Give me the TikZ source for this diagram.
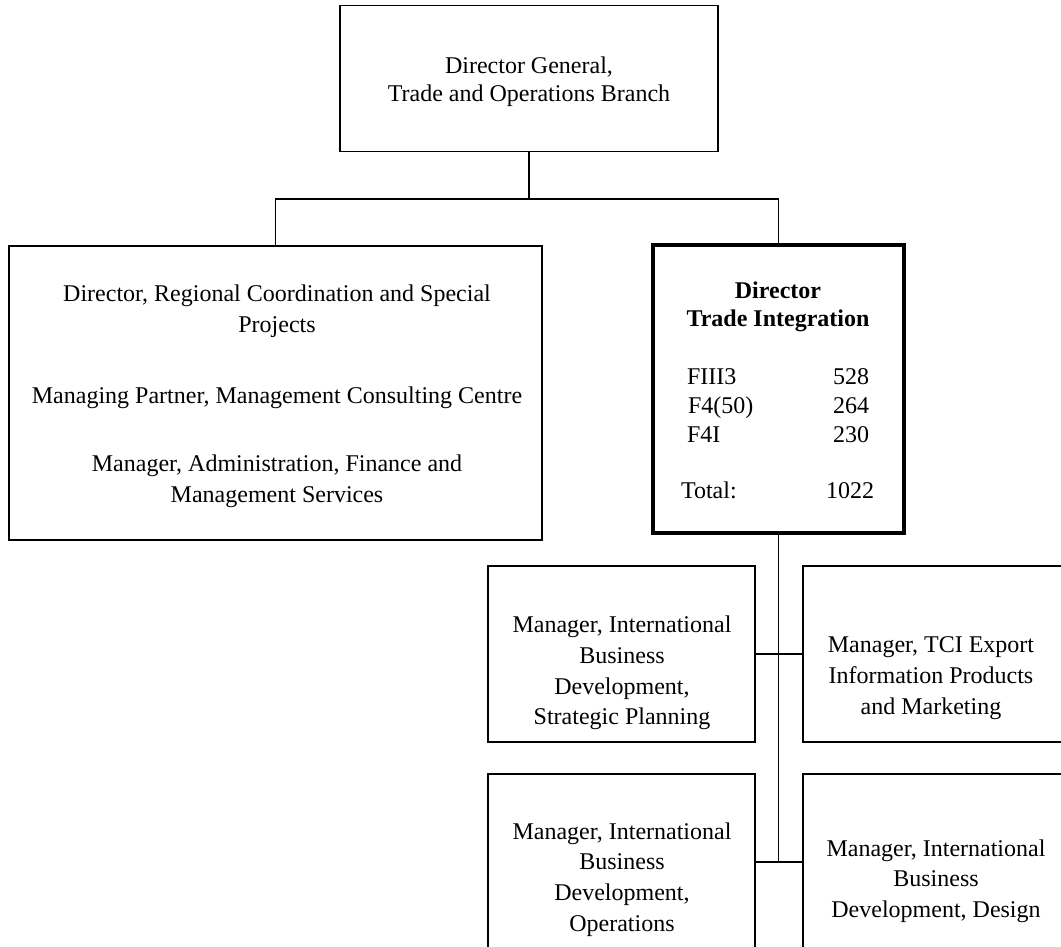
\documentclass[tikz,border=0pt]{standalone}
\usepackage{fontspec}
\setmainfont{Liberation Serif}
\begin{document}
\begin{tikzpicture}[x=1pt,y=-1pt,
  box/.style={draw, rectangle, line width=1.3pt, inner sep=0pt, outer sep=0pt},
  headbox/.style={box, line width=4.5pt},
  txt/.style={align=center, inner sep=0pt, outer sep=0pt, font=\fontsize{24}{30.7}\selectfont},
  cell/.style={anchor=base west, inner sep=0pt, outer sep=0pt, font=\fontsize{24}{29}\selectfont},
  link/.style={line width=1.3pt}]
\useasboundingbox (0,0) rectangle (1061,947);
\clip (0,0) rectangle (1061,947);

% branch head
\node[box, minimum width=378pt, minimum height=146pt] (dg) at (529,78.8) {};
\node[txt, font=\fontsize{24}{28}\selectfont] (dgt) at (529,82) {Director General,\\Trade and Operations Branch};

% regional coordination
\node[box, minimum width=533pt, minimum height=294pt] (rc) at (275.5,393) {};
\node[txt] (rct) at (277,396) {Director, Regional Coordination and Special\\Projects\\[41pt]Managing Partner, Management Consulting Centre\\[37pt]Manager, Administration, Finance and\\Management Services};

% trade integration
\node[headbox, minimum width=251pt, minimum height=288pt] (ti) at (778.5,389) {};
\node[txt, font=\bfseries\fontsize{24}{28.4}\selectfont] (tit) at (778,307) {Director\\Trade Integration};
\node[cell] (k1) at (687,384) {FIII3};
\node[cell] (k2) at (688,413) {F4(50)};
\node[cell] (k3) at (687,442) {F4I};
\node[cell] (k4) at (681,498) {Total:};
\node[cell] (v1) at (833,384) {528};
\node[cell] (v2) at (833,413) {264};
\node[cell] (v3) at (833,442) {230};
\node[cell] (v4) at (826,498) {1022};

% managers
\node[box, minimum width=267pt, minimum height=176pt] (m1) at (621.5,654) {};
\node[box, minimum width=260pt, minimum height=176pt] (m2) at (933,654) {};
\node[box, minimum width=267pt, minimum height=200pt] (m3) at (621.5,874) {};
\node[box, minimum width=260pt, minimum height=200pt] (m4) at (933,874) {};
\node[txt] (m1t) at (622,673) {Manager, International\\Business\\Development,\\Strategic Planning};
\node[txt] (m2t) at (931,678) {Manager, TCI Export\\Information Products\\and Marketing};
\node[txt] (m3t) at (622,879.5) {Manager, International\\Business\\Development,\\Operations};
\node[txt] (m4t) at (936,881) {Manager, International\\Business\\Development, Design};

% connectors
\coordinate (bus) at (0,199);
\coordinate (low) at (0,862);
\draw[link] (dg.south) -- (dg.south |- bus);
\draw[link] (rc.north) -- (rc.north |- bus) -| (ti.north);
\draw[link] (ti.south) -- (ti.south |- low);
\draw[link] (m1.east) -- (m2.west);
\draw[link] (m3.east |- low) -- (m4.west |- low);
\end{tikzpicture}
\end{document}
